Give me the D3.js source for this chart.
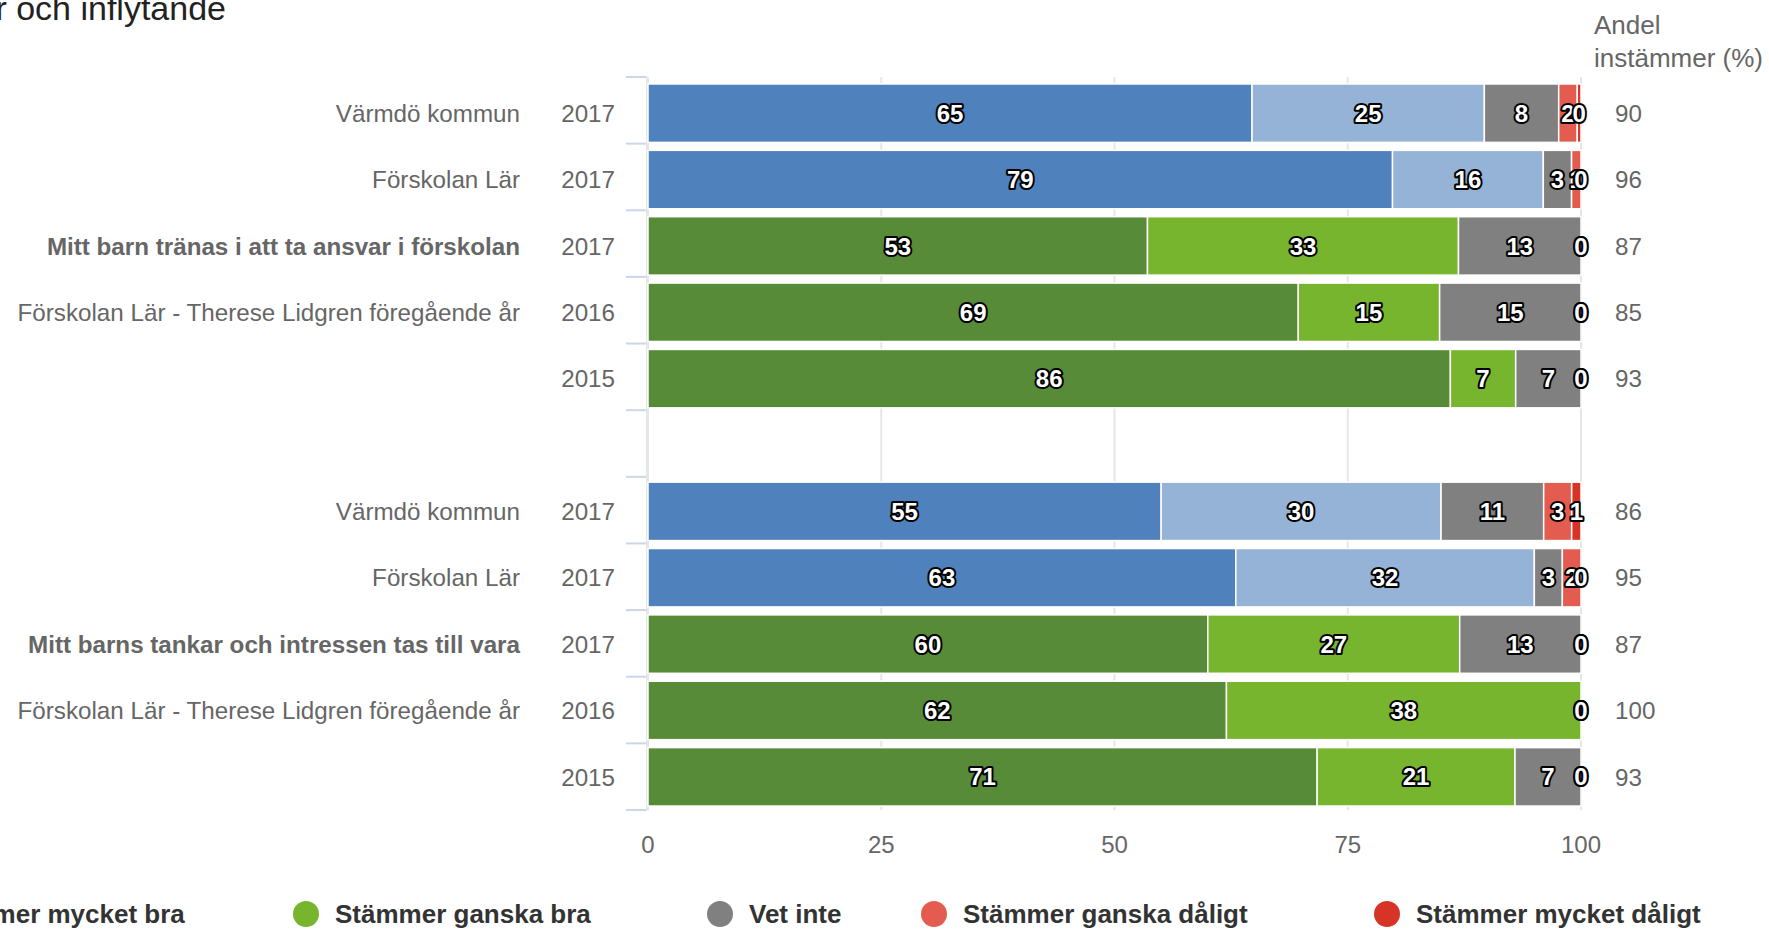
<!DOCTYPE html>
<html><head><meta charset="utf-8">
<script src="https://cdn.jsdelivr.net/npm/d3@7"></script>
<style>
html,body{margin:0;padding:0;background:#fff;overflow:hidden}
text{font-family:"Liberation Sans",Arial,sans-serif}
</style></head>
<body><svg id="c" width="1769" height="930"></svg>
<script>
// ---- data ----
const categories = ["Värmdö kommun","Förskolan Lär","Mitt barn tränas i att ta ansvar i förskolan","Förskolan Lär - Therese Lidgren föregående år","","",
  "Värmdö kommun","Förskolan Lär","Mitt barns tankar och intressen tas till vara","Förskolan Lär - Therese Lidgren föregående år",""];
const boldRows = [false,false,true,false,false,false,false,false,true,false,false];
const years = ["2017","2017","2017","2016","2015","","2017","2017","2017","2016","2015"];
const rowPalette = ["blue","blue","green","green","green",null,"blue","blue","green","green","green"];
const seriesNames = ["Stämmer mycket bra","Stämmer ganska bra","Vet inte","Stämmer ganska dåligt","Stämmer mycket dåligt"];
const mycketBra    = [65, 79, 53, 69, 86, null, 55, 63, 60, 62, 71];
const ganskaBra    = [25, 16, 33, 15,  7, null, 30, 32, 27, 38, 21];
const vetInte      = [ 8,  3, 13, 15,  7, null, 11,  3, 13,  0,  7];
const ganskaDaligt = [ 2,  1,  0,  0,  0, null,  3,  2,  0,  0,  0];
const mycketDaligt = [0.4, 0,  0,  0,  0, null,  1,  0,  0,  0,  0];
const andelInstammer = [90, 96, 87, 85, 93, null, 86, 95, 87, 100, 93];
const xTicks = [0, 25, 50, 75, 100];
const title = "Ansvar och inflytande";

// ---- styles ----
const colors = {
  blue:  ["#4f81bd","#95b3d7","#808080","#e45c4f","#d63426"],
  green: ["#578b37","#77b52e","#808080","#e45c4f","#d63426"]
};
const legendX = [-100, 306, 720, 934, 1387];

const series = [mycketBra, ganskaBra, vetInte, ganskaDaligt, mycketDaligt];
const svg = d3.select("#c");

const x = d3.scaleLinear().domain([0,100]).range([648,1581]);
const y = d3.scaleBand().domain(d3.range(categories.length)).range([80,810]).paddingInner(0.12).paddingOuter(0.06);

// gridlines
svg.append("g").selectAll("line").data(xTicks).join("line")
  .attr("x1",d=>x(d)).attr("x2",d=>x(d)).attr("y1",77).attr("y2",810)
  .attr("stroke","#e6e6e6").attr("stroke-width",2);

// category ticks
const bounds = d3.range(categories.length+1).map(i=>77 + i*(810-77)/categories.length);
svg.append("g").selectAll("line").data(bounds).join("line")
  .attr("x1",626).attr("x2",647).attr("y1",d=>d).attr("y2",d=>d)
  .attr("stroke","#ccd6eb").attr("stroke-width",2);
svg.append("line").attr("x1",647).attr("x2",647).attr("y1",77).attr("y2",810)
  .attr("stroke","#e6e6e6").attr("stroke-width",2);

// stacked (percent) bars
const rows = categories.map((c,i)=>{
  if (mycketBra[i]==null) return null;
  const vals = series.map(s=>s[i]);
  const tot = d3.sum(vals);
  let acc = 0;
  return vals.map((v,k)=>{ const s=acc/tot*100; acc+=v; return {row:i,k,v,x0:s,x1:acc/tot*100}; });
}).filter(r=>r);
const segs = rows.flat();
svg.append("g").selectAll("rect").data(segs.filter(d=>d.v>0)).join("rect")
  .attr("x",d=>x(d.x0)).attr("width",d=>Math.max(0,x(d.x1)-x(d.x0)))
  .attr("y",d=>y(d.row)).attr("height",y.bandwidth())
  .attr("fill",d=>colors[rowPalette[d.row]][d.k])
  .attr("stroke","#fff").attr("stroke-width",1.5);

// data labels
svg.append("g").selectAll("text").data(segs).join("text")
  .attr("x",d=>x((d.x0+d.x1)/2)).attr("y",d=>y(d.row)+y.bandwidth()/2)
  .attr("dy","0.36em").attr("text-anchor","middle")
  .attr("font-size",24).attr("font-weight","bold")
  .attr("fill","#fff").attr("stroke","#000").attr("stroke-width",4)
  .attr("stroke-linejoin","round").attr("paint-order","stroke")
  .text(d=>Math.round(d.v));

// category labels
svg.append("g").selectAll("text").data(categories).join("text")
  .attr("x",520).attr("y",(d,i)=>y(i)+y.bandwidth()/2).attr("dy","0.36em")
  .attr("text-anchor","end").attr("font-size",24.2).attr("fill","#666")
  .attr("font-weight",(d,i)=>boldRows[i]?"bold":"normal").text(d=>d);
svg.append("g").selectAll("text").data(years).join("text")
  .attr("x",615).attr("y",(d,i)=>y(i)+y.bandwidth()/2).attr("dy","0.36em")
  .attr("text-anchor","end").attr("font-size",24.2).attr("fill","#666").text(d=>d);

// right values
svg.append("g").selectAll("text").data(andelInstammer).join("text")
  .attr("x",1615).attr("y",(d,i)=>y(i)+y.bandwidth()/2).attr("dy","0.36em")
  .attr("font-size",24.2).attr("fill","#666").text(d=>d==null?"":d);
svg.append("text").attr("x",1594).attr("y",25).attr("dy","0.36em").attr("font-size",26).attr("fill","#666").text("Andel");
svg.append("text").attr("x",1594).attr("y",58).attr("dy","0.36em").attr("font-size",26).attr("fill","#666").text("instämmer (%)");

// x axis labels
svg.append("g").selectAll("text").data(xTicks).join("text")
  .attr("x",d=>x(d)).attr("y",844).attr("dy","0.36em").attr("text-anchor","middle")
  .attr("font-size",24).attr("fill","#666").text(d=>d);

// title
svg.append("text").attr("x",226).attr("y",20).attr("text-anchor","end")
  .attr("font-size",34).attr("fill","#222").text(title);

// legend
const lg = svg.append("g").selectAll("g").data(seriesNames).join("g")
  .attr("transform",(d,i)=>`translate(${legendX[i]},914)`);
lg.append("circle").attr("r",13).attr("fill",(d,i)=>colors.green[i]);
lg.append("text").attr("x",29).attr("dy","0.36em").attr("font-size",26).attr("font-weight","bold")
  .attr("fill","#333").text(d=>d);
</script></body></html>
